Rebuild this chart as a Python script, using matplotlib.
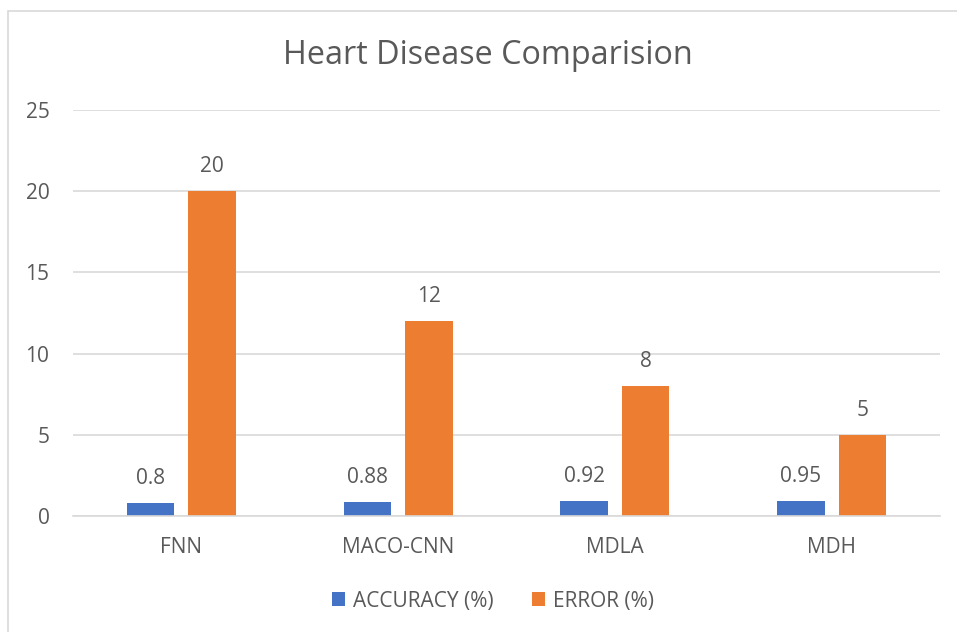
import matplotlib.pyplot as plt
import numpy as np
from matplotlib.patches import Rectangle

categories = ["FNN", "MACO-CNN", "MDLA", "MDH"]
accuracy = [0.8, 0.88, 0.92, 0.95]
error = [20, 12, 8, 5]
y_ticks = [0, 5, 10, 15, 20, 25]

TEXT = "#595959"
GRID = "#D9D9D9"
BLUE = "#4472C4"
ORANGE = "#ED7D31"

plt.rcParams["font.family"] = ["Open Sans", "DejaVu Sans"]

fig = plt.figure(figsize=(9.57, 6.32), dpi=100)
fig.patches.append(Rectangle((8 / 957, -0.01), 1.0, (632 - 11) / 632 + 0.01,
                             transform=fig.transFigure, fill=False,
                             edgecolor=GRID, linewidth=1.2))

ax = fig.add_axes([73 / 957, 116 / 632, (940 - 73) / 957, (516 - 110) / 632])

x = np.arange(len(categories))
width = 0.22
offset = 0.142
bars_acc = ax.bar(x - offset, accuracy, width, color=BLUE, label="ACCURACY (%)")
bars_err = ax.bar(x + offset, error, width, color=ORANGE, label="ERROR (%)")

for bars, values in ((bars_acc, accuracy), (bars_err, error)):
    for bar, value in zip(bars, values):
        ax.annotate(f"{value:g}", (bar.get_x() + bar.get_width() / 2, value),
                    xytext=(0, 10), textcoords="offset points",
                    ha="center", va="bottom", fontsize=15, color=TEXT)

ax.set_xlim(-0.5, len(categories) - 0.5)
ax.set_ylim(0, 25)
ax.set_yticks(y_ticks)
ax.set_xticks(x)
ax.set_xticklabels(categories)
ax.yaxis.grid(True, color=GRID, linewidth=1.2)
ax.set_axisbelow(True)
for side in ("top", "right", "left"):
    ax.spines[side].set_visible(False)
ax.spines["bottom"].set_color(GRID)
ax.spines["bottom"].set_linewidth(1.2)
ax.tick_params(axis="both", length=0, labelsize=15, colors=TEXT)
ax.tick_params(axis="y", pad=17)
ax.tick_params(axis="x", pad=15)

fig.text(488 / 957, 1 - 56 / 632, "Heart Disease Comparision", ha="center",
         va="center", fontsize=23.3, color=TEXT)

fig.legend(handles=[bars_acc, bars_err], loc="center", ncol=2,
           bbox_to_anchor=(493 / 957, 1 - 601 / 632), frameon=False,
           fontsize=15, labelcolor=TEXT, handlelength=0.65, handleheight=0.65,
           handletextpad=0.4, columnspacing=1.8)

fig.savefig("out.png", dpi=100)
